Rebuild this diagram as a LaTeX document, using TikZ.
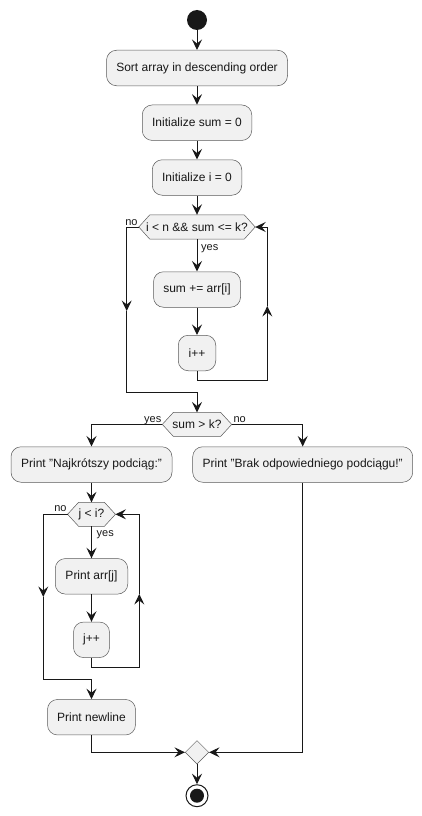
\documentclass[tikz,border=0pt]{standalone}
\usepackage{fontspec}
\setmainfont{Liberation Sans}
\usetikzlibrary{arrows.meta,backgrounds,shapes.geometric}
\definecolor{boxfill}{HTML}{F1F1F1}
\definecolor{boxline}{HTML}{5A5A5A}
\definecolor{ink}{HTML}{181818}
\newcommand\hexoutline[1]{%
  \begin{scope}[on background layer]
    \draw[draw=boxline,fill=boxfill,line width=0.5pt]
      (#1.west) -- ([xshift=11pt]#1.north west) -- ([xshift=-11pt]#1.north east)
      -- (#1.east) -- ([xshift=-11pt]#1.south east) -- ([xshift=11pt]#1.south west) -- cycle;
  \end{scope}}
\begin{document}
\begin{tikzpicture}[x=1pt,y=-1pt,
  box/.style={draw=boxline,fill=boxfill,line width=0.5pt,rounded corners=10pt,
    inner sep=0pt,minimum height=35.5pt,font=\fontsize{12}{14}\selectfont,text=ink},
  hex/.style={inner sep=0pt,minimum height=24pt,font=\fontsize{12}{14}\selectfont,text=ink},
  flow/.style={draw=ink,line width=1pt,-{Stealth[length=10.5pt,width=10pt,inset=4pt]}},
  lbl/.style={inner sep=0pt,font=\fontsize{11}{13}\selectfont,text=ink}]
\useasboundingbox (0,0) rectangle (422,816);

% nodes
\node[circle,fill=ink,minimum size=20pt,inner sep=0pt] (start) at (197,20) {};
\node[box,minimum width=181pt] (sort) at (197,68) {Sort array in descending order};
\node[box,minimum width=109.5pt] (initsum) at (197,122.7) {Initialize sum = 0};
\node[box,minimum width=89.5pt] (initi) at (197,177.5) {Initialize i = 0};
\node[hex,minimum width=116pt] (c1) at (197,227) {i < n \&\& sum <= k?};
\hexoutline{c1}
\node[box,minimum width=87pt] (sumadd) at (197,289.5) {sum += arr[i]};
\node[box,minimum width=37.5pt] (iinc) at (197,353) {i++};
\node[hex,minimum width=69pt,minimum height=23.5pt] (cond) at (197,424.4) {sum > k?};
\hexoutline{cond}
\node[box,minimum width=161pt] (najk) at (91.5,464.5) {Print "Najkrótszy podciąg:"};
\node[box,minimum width=220pt] (brak) at (302.7,464.5) {Print "Brak odpowiedniego podciągu!"};
\node[hex,minimum width=47.5pt,minimum height=23.5pt] (c2) at (91.5,514.3) {j < i?};
\hexoutline{c2}
\node[box,minimum width=72.5pt] (parr) at (91.5,576.3) {Print arr[j]};
\node[box,minimum width=36pt] (jinc) at (91.5,639.8) {j++};
\node[box,minimum width=88pt] (newline) at (91.5,717.2) {Print newline};
\node[diamond,draw=boxline,fill=boxfill,line width=0.5pt,minimum width=23.6pt,minimum height=23.6pt,inner sep=0pt] (merge) at (197,752.3) {};
\node[circle,draw=ink,line width=1pt,minimum size=22pt,inner sep=0pt,
  path picture={\fill[ink] (path picture bounding box.center) circle (7pt);}] (stop) at (197,795.7) {};

% helper coordinates
\coordinate (l1mid) at (126.7,311);
\coordinate (l1bot) at (197,392.3);
\coordinate (r1bot) at (267.3,380);
\coordinate (r1mid) at (267.3,306);
\coordinate (l2mid) at (43.3,597);
\coordinate (l2bot) at (91.5,679.3);
\coordinate (r2bot) at (139.3,667.3);
\coordinate (r2mid) at (139.3,594);

% connectors
\draw[flow] (start) -- (sort);
\draw[flow] (sort) -- (initsum);
\draw[flow] (initsum) -- (initi);
\draw[flow] (initi) -- (c1);
\draw[flow] (c1) -- (sumadd);
\draw[flow] (sumadd) -- (iinc);
\draw[flow] (iinc.south) |- (r1bot) -- (r1mid);
\draw[flow] (r1mid) |- (c1.east);
\draw[flow] (c1.west) -| (l1mid);
\draw[flow] (l1mid) |- (l1bot) -- (cond.north);
\draw[flow] (cond.west) -| (najk.north);
\draw[flow] (cond.east) -| (brak.north);
\draw[flow] (najk) -- (c2);
\draw[flow] (c2) -- (parr);
\draw[flow] (parr) -- (jinc);
\draw[flow] (jinc.south) |- (r2bot) -- (r2mid);
\draw[flow] (r2mid) |- (c2.east);
\draw[flow] (c2.west) -| (l2mid);
\draw[flow] (l2mid) |- (l2bot) -- (newline.north);
\draw[flow] (newline.south) |- (merge.west);
\draw[flow] (brak.south) |- (merge.east);
\draw[flow] (merge) -- (stop);

% labels
\node[lbl,anchor=base east] (n1) at (137.7,225) {no};
\node[lbl,anchor=base west] (y1) at (201,250) {yes};
\node[lbl,anchor=base east] (y2) at (161.5,422) {yes};
\node[lbl,anchor=base west] (n2) at (233.3,422) {no};
\node[lbl,anchor=base east] (n3) at (66.7,511) {no};
\node[lbl,anchor=base west] (y3) at (96.5,536) {yes};
\end{tikzpicture}
\end{document}
